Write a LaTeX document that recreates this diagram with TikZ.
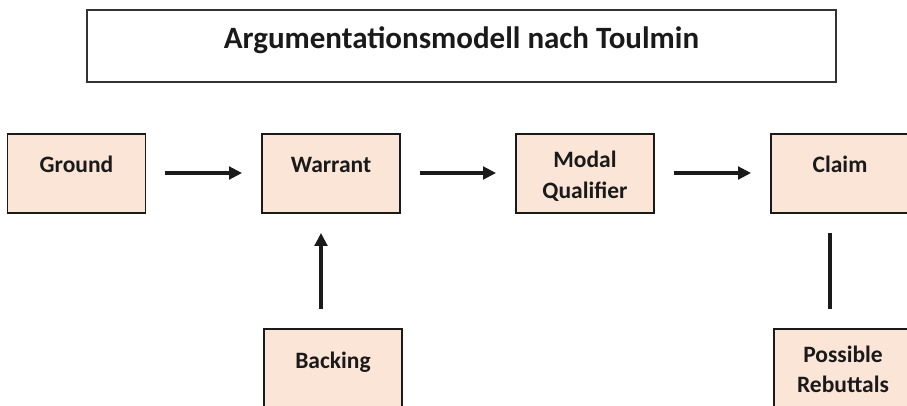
\documentclass[tikz,border=0pt]{standalone}
\usepackage{fontspec}
\setmainfont{Carlito}
\usetikzlibrary{arrows.meta}
\definecolor{boxfill}{HTML}{FBE5D6}
\definecolor{boxline}{HTML}{1A1A1A}
\begin{document}
\begin{tikzpicture}[x=1pt,y=-1pt,
  stepbox/.style={draw=boxline,line width=1.8pt,fill=boxfill,minimum width=138pt,minimum height=79pt,inner sep=0pt},
  lbl/.style={font=\fontsize{23.5}{27}\selectfont\bfseries,text=boxline,anchor=base,inner sep=0pt},
  arr/.style={line width=3.2pt,draw=boxline,-{Triangle[length=13pt,width=12.5pt]},shorten <=19pt,shorten >=19pt},
  conn/.style={line width=3.2pt,draw=boxline,shorten <=19pt,shorten >=19pt}]
\useasboundingbox (0,0) rectangle (907,405);
% title
\node[draw=black!80,line width=1.1pt,minimum width=749pt,minimum height=72pt,inner sep=0pt] (title) at (461.5,46) {};
\node[font=\fontsize{31}{36}\selectfont\bfseries,text=boxline,anchor=base,inner sep=0pt] (titletext) at (461.5,48) {Argumentationsmodell nach Toulmin};
% boxes
\node[stepbox] (ground) at (76.5,173.5) {};
\node[stepbox] (warrant) at (331,173.5) {};
\node[stepbox] (modal) at (585,173.5) {};
\node[stepbox] (claim) at (840,173.5) {};
\node[stepbox] (backing) at (333,368.5) {};
\node[stepbox] (rebut) at (843,368.5) {};
% labels
\node[lbl] (tground) at (76.5,172.5) {Ground};
\node[lbl] (twarrant) at (331,172.5) {Warrant};
\node[lbl] (tmodal1) at (585,167.5) {Modal};
\node[lbl] (tmodal2) at (585,198.5) {Qualifier};
\node[lbl] (tclaim) at (840,172.5) {Claim};
\node[lbl] (tbacking) at (333,368.5) {Backing};
\node[lbl] (trebut1) at (843,362.5) {Possible};
\node[lbl] (trebut2) at (843,392.5) {Rebuttals};
% connectors
\coordinate (bx) at (321,0);
\coordinate (cx) at (830,0);
\draw[arr] (ground.east |- 0,173) -- (warrant.west |- 0,173);
\draw[arr] (warrant.east |- 0,173) -- (modal.west |- 0,173);
\draw[arr] (modal.east |- 0,173) -- (claim.west |- 0,173);
\draw[arr] (backing.north -| bx) -- (warrant.south -| bx);
\draw[conn] (claim.south -| cx) -- (rebut.north -| cx);
\end{tikzpicture}
\end{document}
